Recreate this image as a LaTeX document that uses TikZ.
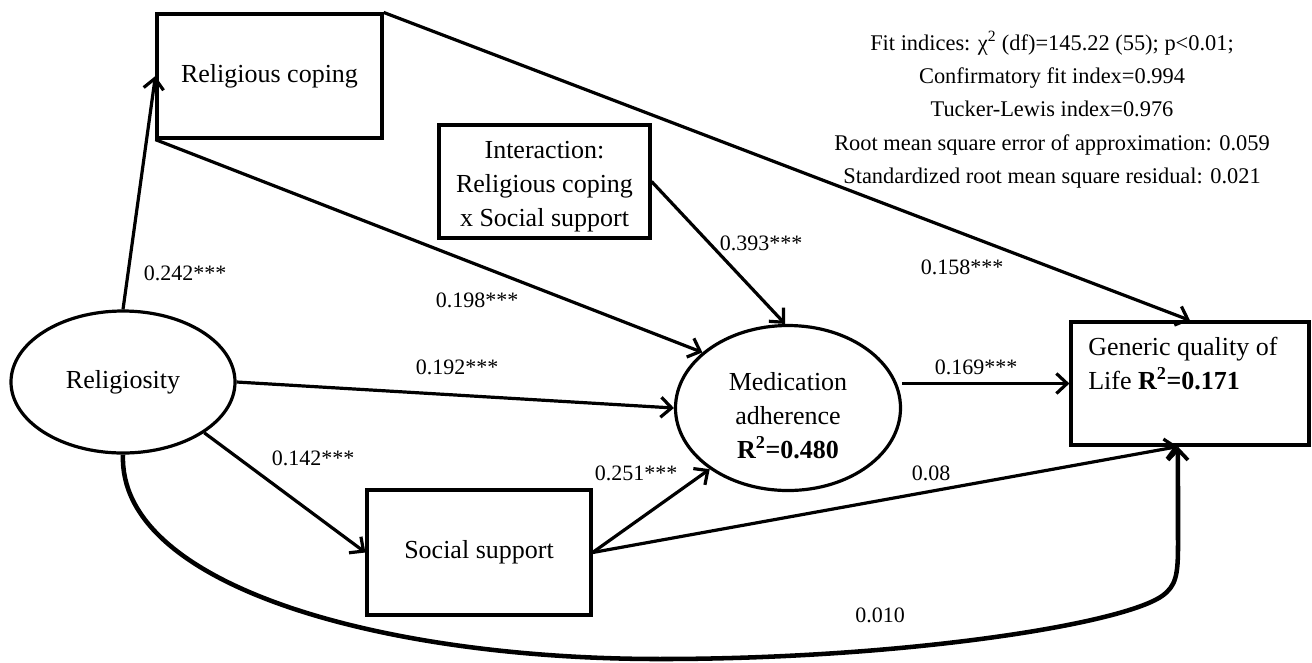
\documentclass[tikz,border=0pt]{standalone}
\usepackage{fontspec}
\setmainfont{Liberation Serif}
\usetikzlibrary{arrows.meta,shapes.geometric,calc}
\tikzset{
  nodefont/.style={font=\fontsize{19.5}{25.5}\selectfont},
  boxnode/.style={draw,line width=2.4pt,rectangle,inner sep=0pt,nodefont,align=center},
  ellnode/.style={draw,line width=2.4pt,ellipse,inner sep=0pt,nodefont,align=center},
  lab/.style={font=\fontsize{16.5}{20}\selectfont,inner sep=0pt},
  arr/.style={line width=2.4pt,-{Straight Barb[length=8pt,width=15pt,line width=2.4pt]}},
  bigarr/.style={line width=3.4pt,-{Straight Barb[length=8pt,width=15pt,line width=2.8pt]}}
}
\begin{document}
\begin{tikzpicture}[x=0.75pt,y=-0.75pt]
\useasboundingbox (0,0) rectangle (1312,662);
% nodes
\node[ellnode,minimum width=168pt,minimum height=106.5pt] (rel) at (123,382) {Religiosity};
\node[ellnode,minimum width=168.75pt,minimum height=123.75pt] (med) at (788,408) {};
\node[nodefont,align=center,inner sep=0pt] (medtxt) at (788,416) {Medication\\adherence\\\textbf{R\textsuperscript{2}=0.480}};
\node[boxnode,minimum width=168.75pt,minimum height=93pt] (rc) at (269.5,76) {Religious coping};
\node[boxnode,minimum width=158.25pt,minimum height=84.75pt] (inter) at (544.5,181.5) {};
\node[nodefont,align=center,inner sep=0pt] (intertxt) at (544.5,187) {Interaction:\\Religious coping\\x Social support};
\node[boxnode,minimum width=168pt,minimum height=93.75pt] (ss) at (479,552.5) {Social support};
\node[boxnode,minimum width=178.5pt,minimum height=92.25pt] (gq) at (1190,383.5) {};
\node[nodefont,align=left,inner sep=0pt,anchor=north west] (gqtxt) at (1088,337) {Generic quality of\\Life \textbf{R\textsuperscript{2}=0.171}};
\coordinate (gqb) at ($(gq.south west)!0.45!(gq.south east)$);
% fit indices
\node[font=\fontsize{16.8}{25}\selectfont,align=center,inner sep=0pt,anchor=north] (fit) at (1052,31)
 {Fit indices: χ\textsuperscript{2} (df)=145.22 (55); p<0.01;\\Confirmatory fit index=0.994\\Tucker-Lewis index=0.976\\Root mean square error of approximation: 0.059\\Standardized root mean square residual: 0.021};
% connectors
\draw[arr] (rel.north) -- (rc.west);
\draw[arr] (rc.south west) -- (med.147);
\draw[arr] (rc.north east) -- (gq.north);
\draw[arr] (inter.east) -- (med.92);
\draw[arr] (rel.east) -- (med.west);
\draw[arr] (rel.-32) -- (ss.west);
\draw[arr] (ss.east) -- (med.218);
\draw[arr] (ss.east) -- (gqb);
\draw[arr] (med.east |- gq.west) -- (gq.west);
\draw[bigarr] (rel.south) .. controls (118,585) and (380,659) .. (660,659)
  .. controls (900,659) and (1120,625) .. (1162,596)
  .. controls (1176,586) and (1178,575) .. (1178,545) -- (gqb);
% labels
\node[lab] (l1) at (185,273) {0.242***};
\node[lab] (l2) at (477,300) {0.198***};
\node[lab] (l3) at (761,243) {0.393***};
\node[lab] (l4) at (962,267) {0.158***};
\node[lab] (l5) at (457,367) {0.192***};
\node[lab] (l6) at (976,367) {0.169***};
\node[lab] (l7) at (313,458) {0.142***};
\node[lab] (l8) at (636,473) {0.251***};
\node[lab] (l9) at (931,473) {0.08};
\node[lab] (l10) at (880,615) {0.010};
\end{tikzpicture}
\end{document}
